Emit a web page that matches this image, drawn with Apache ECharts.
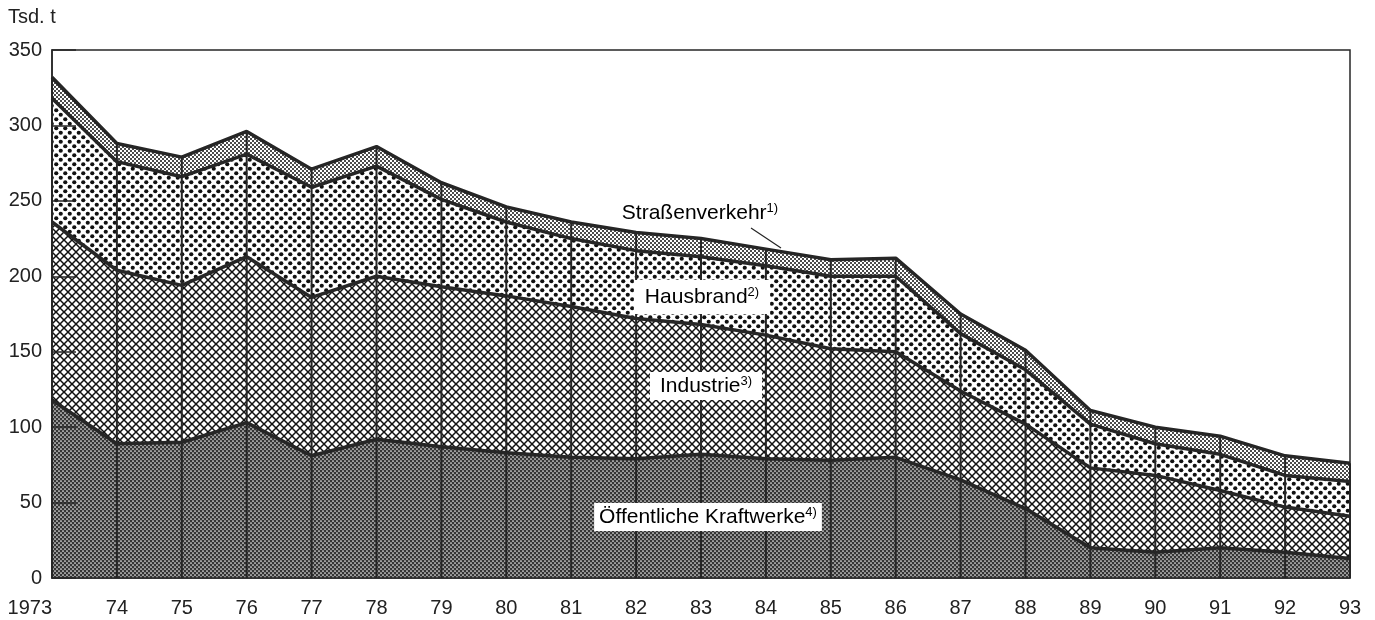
<!DOCTYPE html>
<html>
<head>
<meta charset="utf-8">
<script src="https://cdn.jsdelivr.net/npm/echarts@6/dist/echarts.min.js"></script>
<style>
  html, body { margin: 0; padding: 0; background: #fff; }
  #chart { width: 1375px; height: 620px; }
</style>
</head>
<body>
<div id="chart"></div>
<script>
// Jahre
const years = ['1973', '74', '75', '76', '77', '78', '79', '80', '81', '82', '83',
  '84', '85', '86', '87', '88', '89', '90', '91', '92', '93']
// Tsd. t je Emittentengruppe (von unten nach oben gestapelt)
const kraftwerke = [118, 89, 90, 103, 81, 92, 87, 83, 80, 79, 82, 79, 78, 80, 65, 46, 20, 17, 20, 17, 13]
const industrie = [118, 115, 104, 110, 105, 108, 106, 104, 100, 93, 86, 82, 74, 70, 59, 56, 53, 51, 38, 30, 28]
const hausbrand = [82, 72, 72, 68, 73, 73, 58, 49, 45, 45, 45, 46, 48, 50, 38, 36, 29, 21, 24, 21, 23]
const strassenverkehr = [14, 12, 13, 15, 12, 13, 11, 10, 11, 12, 12, 11, 11, 12, 13, 13, 9, 11, 12, 13, 12]
const yTicks = [0, 50, 100, 150, 200, 250, 300, 350]

const totals = years.map((y, i) => kraftwerke[i] + industrie[i] + hausbrand[i] + strassenverkehr[i])

const FONT = '"Liberation Sans", Arial, sans-serif'
const LINE = '#262626'

// Schraffuren als Kachel-Canvas
function tile(w, h, draw) {
  const c = document.createElement('canvas')
  c.width = w
  c.height = h
  draw(c.getContext('2d'))
  return { image: c, repeat: 'repeat' }
}
const patKraftwerke = tile(4, 4, ctx => {
  ctx.fillStyle = '#353535'
  ctx.fillRect(0, 0, 4, 4)
  ctx.fillStyle = '#f2f2f2'
  ctx.beginPath(); ctx.arc(1, 1, 0.85, 0, Math.PI * 2); ctx.fill()
  ctx.beginPath(); ctx.arc(3, 3, 0.85, 0, Math.PI * 2); ctx.fill()
})
const patIndustrie = tile(8, 8, ctx => {
  ctx.fillStyle = '#fff'
  ctx.fillRect(0, 0, 8, 8)
  ctx.strokeStyle = '#111'
  ctx.lineWidth = 1.5
  ctx.beginPath()
  ctx.moveTo(-1, -1); ctx.lineTo(9, 9)
  ctx.moveTo(9, -1); ctx.lineTo(-1, 9)
  ctx.stroke()
})
const patHausbrand = tile(9, 9, ctx => {
  ctx.fillStyle = '#fff'
  ctx.fillRect(0, 0, 9, 9)
  ctx.fillStyle = '#111'
  ctx.beginPath(); ctx.arc(2.25, 2.25, 2.1, 0, Math.PI * 2); ctx.fill()
  ctx.beginPath(); ctx.arc(6.75, 6.75, 2.1, 0, Math.PI * 2); ctx.fill()
})
const patStrasse = tile(4, 4, ctx => {
  ctx.fillStyle = '#fff'
  ctx.fillRect(0, 0, 4, 4)
  ctx.fillStyle = '#111'
  ctx.beginPath(); ctx.arc(1, 1, 1.0, 0, Math.PI * 2); ctx.fill()
  ctx.beginPath(); ctx.arc(3, 3, 1.0, 0, Math.PI * 2); ctx.fill()
})

function areaSeries(name, data, pattern) {
  return {
    name: name,
    type: 'line',
    stack: 'flaeche',
    data: data,
    showSymbol: false,
    lineStyle: { width: 0 },
    areaStyle: { color: pattern, opacity: 1 },
    z: 1
  }
}
function lineSeries(name, data) {
  return {
    name: name + ' Linie',
    type: 'line',
    stack: 'linie',
    data: data,
    showSymbol: false,
    lineStyle: { width: 3.5, color: LINE },
    z: 4
  }
}

const sup = { fontSize: 13, fontFamily: FONT, color: '#222', verticalAlign: 'top', lineHeight: 22 }
const big = { fontSize: 21, fontFamily: FONT, color: '#222', lineHeight: 22 }

const option = {
  animation: false,
  backgroundColor: '#fff',
  grid: {
    left: 52, right: 25, top: 50, bottom: 42,
    show: true, borderColor: LINE, borderWidth: 1.5
  },
  xAxis: {
    type: 'category',
    data: years,
    boundaryGap: false,
    z: 5,
    axisLine: { lineStyle: { color: LINE, width: 1.5 } },
    axisTick: { show: false },
    axisLabel: {
      color: '#222', fontSize: 20, fontFamily: FONT, margin: 20,
      alignMinLabel: 'right'
    }
  },
  yAxis: {
    type: 'value',
    min: yTicks[0],
    max: yTicks[yTicks.length - 1],
    interval: yTicks[1] - yTicks[0],
    z: 5,
    splitLine: { show: false },
    axisLine: { show: true, lineStyle: { color: LINE, width: 1.5 } },
    axisTick: { show: true, inside: true, length: 24, lineStyle: { color: LINE, width: 1.5 } },
    axisLabel: { color: '#222', fontSize: 20, fontFamily: FONT, margin: 10 }
  },
  series: [
    areaSeries('Öffentliche Kraftwerke', kraftwerke, patKraftwerke),
    areaSeries('Industrie', industrie, patIndustrie),
    areaSeries('Hausbrand', hausbrand, patHausbrand),
    areaSeries('Straßenverkehr', strassenverkehr, patStrasse),
    {
      name: 'Jahreslinien',
      type: 'bar',
      data: totals,
      barWidth: 2,
      itemStyle: { color: LINE },
      z: 3
    },
    lineSeries('Öffentliche Kraftwerke', kraftwerke),
    lineSeries('Industrie', industrie),
    lineSeries('Hausbrand', hausbrand),
    lineSeries('Straßenverkehr', strassenverkehr)
  ],
  graphic: [
    {
      type: 'text', left: 8, top: 7,
      style: { text: 'Tsd. t', fontSize: 20, fontFamily: FONT, fill: '#222' }
    },
    {
      type: 'text', x: 700, y: 213, z: 10,
      style: {
        text: '{a|Straßenverkehr}{s|1)}', align: 'center', verticalAlign: 'middle',
        rich: { a: big, s: sup }
      }
    },
    {
      type: 'line', z: 10,
      shape: { x1: 751, y1: 228, x2: 781, y2: 248 },
      style: { stroke: '#222', lineWidth: 1.2 }
    },
    {
      type: 'text', x: 702, y: 297, z: 10,
      style: {
        text: '{a|Hausbrand}{s|2)}', align: 'center', verticalAlign: 'middle',
        backgroundColor: '#fff', padding: [6, 11],
        rich: { a: big, s: sup }
      }
    },
    {
      type: 'text', x: 706, y: 386, z: 10,
      style: {
        text: '{a|Industrie}{s|3)}', align: 'center', verticalAlign: 'middle',
        backgroundColor: '#fff', padding: [3, 10],
        rich: { a: big, s: sup }
      }
    },
    {
      type: 'text', x: 708, y: 517, z: 10,
      style: {
        text: '{a|Öffentliche Kraftwerke}{s|4)}', align: 'center', verticalAlign: 'middle',
        backgroundColor: '#fff', padding: [3, 5],
        rich: { a: big, s: sup }
      }
    }
  ]
}

const chart = echarts.init(document.getElementById('chart'))
chart.setOption(option)
</script>
</body>
</html>
